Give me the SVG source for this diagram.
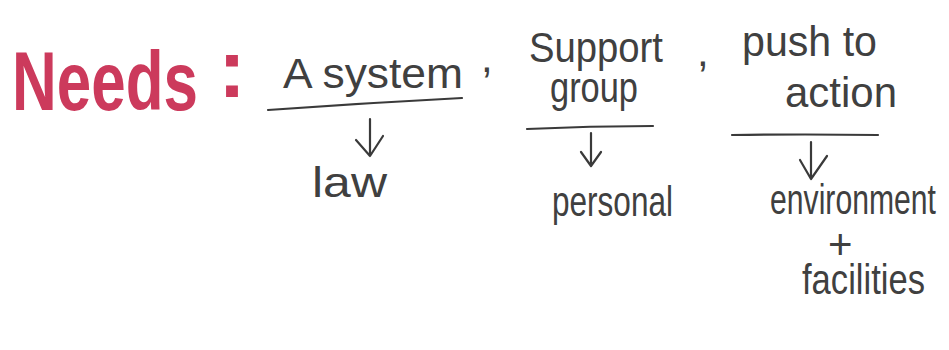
<svg xmlns="http://www.w3.org/2000/svg" width="949" height="350" viewBox="0 0 949 350">
  <style>
    .hw { font-family: "Liberation Sans", "DejaVu Sans", sans-serif; fill: #404040; font-size: 42px; }
    .title { font-family: "Liberation Sans", "DejaVu Sans", sans-serif; fill: #cc3a5c; font-weight: bold; font-size: 84px; }
    .ln { stroke: #3a3a3a; stroke-width: 2.2; fill: none; stroke-linecap: round; stroke-linejoin: round; }
  </style>
  <rect width="949" height="350" fill="#ffffff"/>
  <g id="title">
    <text class="title" x="12" y="110" textLength="186" lengthAdjust="spacingAndGlyphs">Needs</text>
    <text class="title" x="218" y="97" font-size="52">:</text>
  </g>
  <g id="system">
    <text class="hw" x="283" y="88" textLength="180" lengthAdjust="spacingAndGlyphs">A system</text>
    <text class="hw" x="481" y="72">,</text>
  </g>
  <g id="support">
    <text class="hw" x="529" y="62" textLength="134" lengthAdjust="spacingAndGlyphs">Support</text>
    <text class="hw" x="550" y="102" textLength="88" lengthAdjust="spacingAndGlyphs">group</text>
    <text class="hw" x="697" y="66">,</text>
  </g>
  <g id="push">
    <text class="hw" x="742" y="56" textLength="135" lengthAdjust="spacingAndGlyphs">push to</text>
    <text class="hw" x="785" y="107" textLength="112" lengthAdjust="spacingAndGlyphs">action</text>
  </g>
  <g id="law">
    <text class="hw" x="312" y="197" textLength="75" lengthAdjust="spacingAndGlyphs">law</text>
  </g>
  <g id="personal">
    <text class="hw" x="552" y="216" textLength="121" lengthAdjust="spacingAndGlyphs">personal</text>
  </g>
  <g id="environment">
    <text class="hw" x="770" y="214" textLength="166" lengthAdjust="spacingAndGlyphs">environment</text>
    <text class="hw" x="828" y="259" font-size="28">+</text>
    <text class="hw" x="802" y="294" textLength="123" lengthAdjust="spacingAndGlyphs">facilities</text>
  </g>
  <g id="connectors">
    <path class="ln" d="M268 110 Q365 103 462 98"/>
    <path class="ln" d="M370 119 L370 156 M356 140 L370 156 L383 136"/>
    <path class="ln" d="M527 129 Q590 126 653 126"/>
    <path class="ln" d="M591 133 L591 166 M581 152 L591 166 L601 152"/>
    <path class="ln" d="M732 135 Q805 134 878 135"/>
    <path class="ln" d="M811 142 L811 179 M800 160 L811 179 L827 156"/>
  </g>
</svg>
